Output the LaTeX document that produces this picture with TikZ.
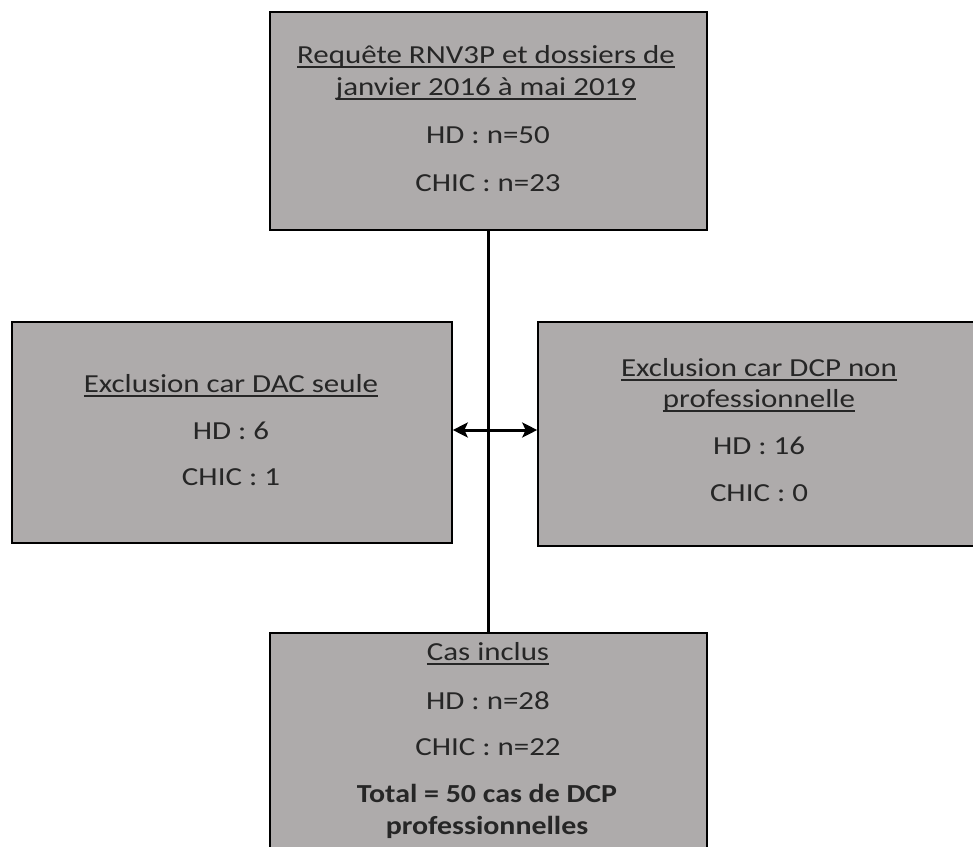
\documentclass[tikz,border=0pt]{standalone}
\usepackage{fontspec}
\usepackage{graphicx}
\setmainfont{Carlito}
\usetikzlibrary{arrows.meta}
\definecolor{boxgray}{HTML}{AEABAB}
\definecolor{txtcol}{HTML}{262626}
\newcommand\myul[1]{\setbox0\hbox{#1}\rlap{\rule[-4.5pt]{\wd0}{1.7pt}}\box0}
\newcommand\wide[1]{\scalebox{1.19}[1]{#1}}
\newcommand\wideb[1]{\scalebox{1.15}[1]{#1}}
\tikzset{
  box/.style={draw=black, line width=1.6pt, fill=boxgray, inner sep=0pt},
  txt/.style={font=\fontsize{26}{30}\selectfont, text=txtcol, inner sep=0pt, anchor=base},
  boldtxt/.style={txt, font=\fontsize{26}{30}\selectfont\bfseries},
  conn/.style={line width=3pt, draw=black},
  tip/.style={-{Stealth[length=15pt,width=15pt,inset=3.5pt]}}
}
\begin{document}
\begin{tikzpicture}[x=1pt,y=-1pt]
\useasboundingbox (0,0) rectangle (973,846);
\clip (0,0) rectangle (973,846);
\fill[white] (0,0) rectangle (973,846);
% boxes
\node[box, minimum width=437pt, minimum height=218pt] (top) at (488.5,121) {};
\node[box, minimum width=440pt, minimum height=221pt] (left) at (232,432.5) {};
\node[box, minimum width=450pt, minimum height=224pt] (right) at (763,434) {};
\node[box, minimum width=437pt, minimum height=240pt] (bot) at (488.5,753) {};
% connectors
\coordinate (mid) at (488,430);
\draw[conn] (top.south -| mid) -- (bot.north -| mid);
\draw[conn, tip] (mid) -- (left.east |- mid);
\draw[conn, tip] (mid) -- (right.west |- mid);
% texts top
\node[txt] (t1) at (486,63) {\wide{\myul{Requête RNV3P et dossiers de}}};
\node[txt] (t2) at (486,95) {\wide{\myul{janvier 2016 à mai 2019}}};
\node[txt] (t3) at (488,143.5) {\wide{HD : n=50}};
\node[txt] (t4) at (488,191.5) {\wide{CHIC : n=23}};
% left
\node[txt] (l1) at (231,392) {\wide{\myul{Exclusion car DAC seule}}};
\node[txt] (l2) at (231,439) {\wide{HD : 6}};
\node[txt] (l3) at (231,485) {\wide{CHIC : 1}};
% right
\node[txt] (r1) at (759,376) {\wide{\myul{Exclusion car DCP non}}};
\node[txt] (r2) at (759,407) {\wide{\myul{professionnelle}}};
\node[txt] (r3) at (759,454) {\wide{HD : 16}};
\node[txt] (r4) at (759,501) {\wide{CHIC : 0}};
% bottom
\node[txt] (b1) at (488,660) {\wide{\myul{Cas inclus}}};
\node[txt] (b2) at (488,709) {\wide{HD : n=28}};
\node[txt] (b3) at (488,755) {\wide{CHIC : n=22}};
\node[boldtxt] (b4) at (487,802) {\wideb{Total = 50 cas de DCP}};
\node[boldtxt] (b5) at (487,834) {\wideb{professionnelles}};
\end{tikzpicture}
\end{document}
